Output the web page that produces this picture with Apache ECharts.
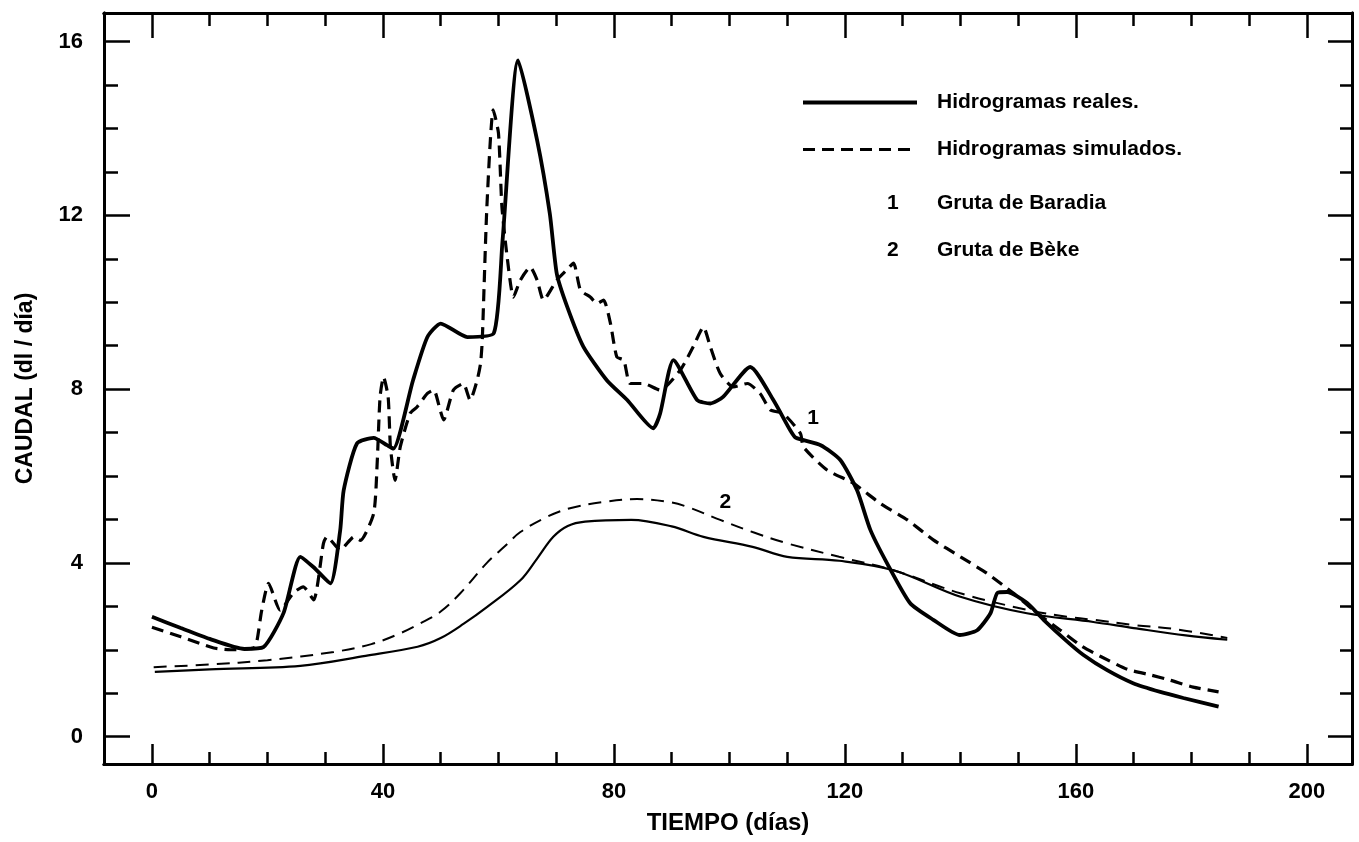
<!DOCTYPE html>
<html>
<head>
<meta charset="utf-8">
<title>Hidrogramas</title>
<script src="https://cdn.jsdelivr.net/npm/echarts@6/dist/echarts.min.js"></script>
<style>
  html, body { margin: 0; padding: 0; background: #fff; }
  #chart { width: 1359px; height: 842px; }
</style>
</head>
<body>
<div id="chart"></div>
<script>
// tick positions
var xMajor = [0, 40, 80, 120, 160, 200];
var xMinor = [10, 20, 30, 50, 60, 70, 90, 100, 110, 130, 140, 150, 170, 180, 190];
var yMajor = [0, 4, 8, 12, 16];
var yMinor = [1, 2, 3, 5, 6, 7, 9, 10, 11, 13, 14, 15];

// Gruta de Baradia (1) - hidrograma real
var baradiaReal = [
  [0, 2.76], [5, 2.5], [10, 2.25], [16, 2.02], [19.3, 2.06], [22.8, 2.85], [25.7, 4.14],
  [28, 3.9], [30.9, 3.53], [32.6, 4.75], [33.2, 5.67], [35.5, 6.75], [38.4, 6.88],
  [40.7, 6.71], [41.8, 6.63], [45.2, 8.2], [47.7, 9.2], [50, 9.51], [54.6, 9.2],
  [59.2, 9.29], [60.7, 11.4], [63.4, 15.57], [66.7, 13.73], [68.9, 12.04], [70.1, 10.66],
  [71.9, 9.9], [74.7, 8.98], [78.8, 8.2], [82.3, 7.75], [86.8, 7.1], [88, 7.44],
  [90.3, 8.67], [94.4, 7.75], [96.7, 7.67], [98.9, 7.82], [103.6, 8.51], [107.6, 7.75],
  [110.5, 7.06], [111.5, 6.88], [115.8, 6.71], [119.2, 6.37], [122.1, 5.67], [124.4, 4.76],
  [127.3, 3.99], [131.3, 3.07], [135.3, 2.69], [139.9, 2.34], [142.9, 2.45], [145.2, 2.84],
  [146.4, 3.31], [148.1, 3.33], [151.5, 3.08], [154.4, 2.69], [158.4, 2.2], [161.3, 1.88],
  [165.4, 1.53], [169.9, 1.23], [174.6, 1.03], [178.6, 0.89], [184.7, 0.69]
];

// Gruta de Baradia (1) - hidrograma simulado
var baradiaSim = [
  [0, 2.52], [5, 2.3], [10.7, 2.04], [13.6, 2.0], [17.6, 2.04], [18.2, 2.22], [19, 2.9],
  [20.2, 3.53], [22.2, 2.91], [24.5, 3.31], [26.2, 3.45], [28, 3.15], [29.7, 4.45],
  [30.3, 4.6], [32.6, 4.3], [35, 4.6], [36.1, 4.52], [38.4, 5.14], [39, 6.29], [39.5, 7.82],
  [40.1, 8.28], [40.9, 7.82], [41.3, 6.67], [42.1, 5.9], [43, 6.67], [44.7, 7.44],
  [45.9, 7.59], [47.7, 7.9], [48.8, 7.98], [49.9, 7.52], [50.5, 7.29], [52.2, 7.98],
  [53.9, 8.13], [55.1, 7.75], [56.3, 8.2], [56.9, 8.59], [57.2, 9.13], [58, 12.2],
  [59.1, 14.43], [60, 13.9], [60.6, 12.2], [61.5, 11.05], [62.6, 10.12], [63.8, 10.51],
  [65.5, 10.81], [66.7, 10.51], [67.8, 10.05], [70.1, 10.51], [71.8, 10.74], [73, 10.9],
  [74.2, 10.28], [75.9, 10.12], [77.1, 9.97], [78.2, 10.05], [79.4, 9.51], [80.5, 8.74],
  [81.7, 8.67], [82.8, 8.13], [85.1, 8.13], [88, 7.98], [91.5, 8.44], [93.7, 8.97],
  [95.5, 9.43], [96.7, 8.97], [98.4, 8.36], [100.7, 8.05], [103.1, 8.13], [105.3, 7.9],
  [107.1, 7.52], [109.3, 7.44], [112.3, 6.98], [112.8, 6.67], [116.9, 6.14], [121.5, 5.83],
  [126.1, 5.37], [130.8, 4.99], [135.3, 4.53], [140, 4.14], [144.6, 3.76], [149.2, 3.3],
  [153.3, 2.84], [157.3, 2.45], [161, 2.08], [164.2, 1.85], [168.9, 1.55], [172.9, 1.42],
  [176.3, 1.3], [180.3, 1.14], [184.7, 1.03]
];

// Gruta de Beke (2) - hidrograma real
var bekeReal = [
  [0.5, 1.49], [10, 1.55], [25.7, 1.63], [37, 1.86], [46, 2.07], [50, 2.27], [54, 2.6],
  [58, 2.98], [63.8, 3.6], [66.7, 4.1], [69.5, 4.6], [72, 4.85], [75, 4.95], [83, 4.99],
  [90, 4.84], [95.5, 4.6], [104, 4.37], [110, 4.14], [119, 4.05], [128.4, 3.83],
  [140, 3.22], [151.5, 2.84], [163, 2.64], [170, 2.5], [179, 2.33], [186.2, 2.23]
];

// Gruta de Beke (2) - hidrograma simulado
var bekeSim = [
  [0.3, 1.6], [10, 1.66], [20, 1.76], [31.5, 1.95], [38, 2.13], [43, 2.38], [46.5, 2.61],
  [50, 2.88], [53.4, 3.3], [58, 4.0], [61, 4.37], [63.8, 4.71], [68.4, 5.06], [72.4, 5.26],
  [78, 5.4], [84, 5.47], [89.7, 5.4], [92.7, 5.29], [98.4, 4.99], [104, 4.71], [110, 4.45],
  [119, 4.14], [128.4, 3.83], [140, 3.3], [151.5, 2.92], [158.4, 2.76], [163, 2.69],
  [170, 2.57], [177.5, 2.47], [186.2, 2.27]
];

var FONT = 'Liberation Sans';
var X_MIN = -8.3, X_MAX = 207.8;
var Y_MIN = -0.63, Y_MAX = 16.66;

function xAxisDef(pos, ticks, len, withLabels) {
  return {
    type: 'value', position: pos, min: X_MIN, max: X_MAX,
    splitLine: { show: false },
    axisLine: { show: true, onZero: false, lineStyle: { color: '#000', width: 3 } },
    axisTick: { show: true, inside: true, length: len, customValues: ticks, lineStyle: { color: '#000', width: 2.5 } },
    axisLabel: withLabels ? {
      customValues: xMajor, margin: 17, color: '#000',
      fontFamily: FONT, fontWeight: 'bold', fontSize: 22
    } : { show: false }
  };
}
function yAxisDef(pos, ticks, len, withLabels) {
  return {
    type: 'value', position: pos, min: Y_MIN, max: Y_MAX,
    splitLine: { show: false },
    axisLine: { show: true, onZero: false, lineStyle: { color: '#000', width: 3 } },
    axisTick: { show: true, inside: true, length: len, customValues: ticks, lineStyle: { color: '#000', width: 2.5 } },
    axisLabel: withLabels ? {
      customValues: yMajor, margin: 21, color: '#000',
      fontFamily: FONT, fontWeight: 'bold', fontSize: 22
    } : { show: false }
  };
}

var chart = echarts.init(document.getElementById('chart'));

var xAxes = [
  xAxisDef('bottom', xMajor, 20, true),
  xAxisDef('bottom', xMinor, 12, false),
  xAxisDef('top', xMajor, 25, false),
  xAxisDef('top', xMinor, 13, false)
];
xAxes[0].name = 'TIEMPO (días)';
xAxes[0].nameLocation = 'middle';
xAxes[0].nameGap = 47;
xAxes[0].nameTextStyle = { color: '#000', fontFamily: FONT, fontWeight: 'bold', fontSize: 24 };

var yAxes = [
  yAxisDef('left', yMajor, 26, true),
  yAxisDef('left', yMinor, 14, false),
  yAxisDef('right', yMajor, 24, false),
  yAxisDef('right', yMinor, 12, false)
];
yAxes[0].name = 'CAUDAL (dl / día)';
yAxes[0].nameLocation = 'middle';
yAxes[0].nameGap = 67;
yAxes[0].nameTextStyle = { color: '#000', fontFamily: FONT, fontWeight: 'bold', fontSize: 23 };

var labelStyle = { color: '#000', fontFamily: FONT, fontWeight: 'bold', fontSize: 21 };

chart.setOption({
  backgroundColor: '#fff',
  animation: false,
  grid: { left: 104, right: 7, top: 13, bottom: 78, containLabel: false },
  xAxis: xAxes,
  yAxis: yAxes,
  legend: {
    data: [
      { name: 'Hidrogramas reales.', lineStyle: { width: 4 } },
      { name: 'Hidrogramas simulados.', lineStyle: { width: 3 } }
    ],
    orient: 'vertical',
    left: 796, top: 87,
    itemWidth: 114, itemHeight: 20, itemGap: 26,
    itemStyle: { opacity: 0 },
    textStyle: { color: '#000', fontFamily: FONT, fontWeight: 'bold', fontSize: 21, padding: [0, 0, 0, 15] }
  },
  graphic: [
    { type: 'text', left: 887, top: 193, style: { text: '1', fill: '#000', font: 'bold 21px "Liberation Sans"' } },
    { type: 'text', left: 937, top: 193, style: { text: 'Gruta de Baradia', fill: '#000', font: 'bold 21px "Liberation Sans"' } },
    { type: 'text', left: 887, top: 240, style: { text: '2', fill: '#000', font: 'bold 21px "Liberation Sans"' } },
    { type: 'text', left: 937, top: 240, style: { text: 'Gruta de Bèke', fill: '#000', font: 'bold 21px "Liberation Sans"' } }
  ],
  series: [
    {
      name: 'Hidrogramas reales.', type: 'line', data: baradiaReal,
      symbol: 'none', smooth: 0.2,
      lineStyle: { color: '#000', width: 3.8 }, itemStyle: { color: '#000' },
      markPoint: {
        symbol: 'circle', symbolSize: 0,
        label: { show: true, formatter: '1', position: 'inside', ...labelStyle },
        data: [{ coord: [114.5, 7.33] }]
      }
    },
    {
      name: 'Hidrogramas simulados.', type: 'line', data: baradiaSim,
      symbol: 'none', smooth: 0.2,
      lineStyle: { color: '#000', width: 3.2, type: [12, 7] }, itemStyle: { color: '#000' }
    },
    {
      name: 'Gruta de Bèke (real)', type: 'line', data: bekeReal,
      symbol: 'none', smooth: 0.35,
      lineStyle: { color: '#000', width: 2.2 }, itemStyle: { color: '#000' },
      markPoint: {
        symbol: 'circle', symbolSize: 0,
        label: { show: true, formatter: '2', position: 'inside', ...labelStyle },
        data: [{ coord: [99.3, 5.4] }]
      }
    },
    {
      name: 'Gruta de Bèke (simulado)', type: 'line', data: bekeSim,
      symbol: 'none', smooth: 0.35,
      lineStyle: { color: '#000', width: 2, type: [13, 8] }, itemStyle: { color: '#000' }
    }
  ]
});
</script>
</body>
</html>
